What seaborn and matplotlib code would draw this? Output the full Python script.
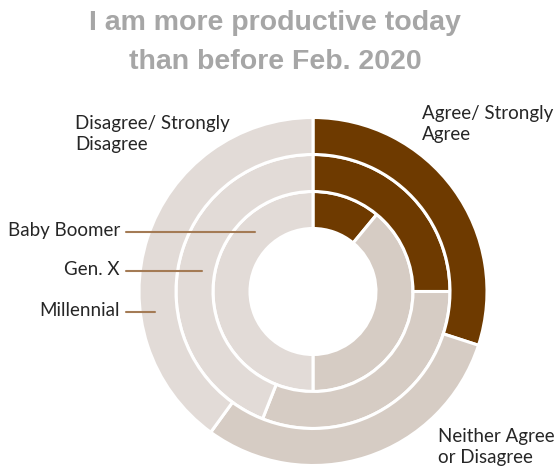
import matplotlib
matplotlib.use('Agg')
import matplotlib.pyplot as plt
import seaborn as sns

# Survey shares (%) per generation, inner ring -> outer ring
generations = ['Baby Boomer', 'Gen. X', 'Millennial']
agree = [11, 25, 30]
neither = [39, 31, 30]
disagree = [50, 44, 40]

colors = ['#6E3A00', '#D6CCC4', '#E2DBD7']

sns.set_theme(style='white')
plt.rcParams['font.family'] = ['Lato', 'DejaVu Sans']

W, H = 558, 470
CX, CY, R = 313, 291.5, 174  # donut centre and outer radius in pixels

fig = plt.figure(figsize=(W / 100, H / 100), dpi=100)
ax = fig.add_axes([0, 0, 1, 1])


def px(x, y):
    # pixel position (from top-left) -> data coords
    return (x - CX) / R, (CY - y) / R


# ring radii (outer edge), each ring 37px wide
radii = [100 / R, 137 / R, 1.0]
width = 37 / R
for i, gen in enumerate(generations):
    vals = [agree[i], neither[i], disagree[i]]
    ax.pie(vals, radius=radii[i], colors=colors, startangle=90,
           counterclock=False,
           wedgeprops=dict(width=width, edgecolor='white', linewidth=2.2))

x0, y0 = px(0, H)
x1, y1 = px(W, 0)
ax.set_xlim(x0, x1)
ax.set_ylim(y0, y1)
ax.set_aspect('auto')
ax.axis('off')

# title
for txt, yy in [('I am more productive today', 23), ('than before Feb. 2020', 62)]:
    ax.text(*px(275, yy), txt, ha='center', va='center', fontsize=20.5,
            fontweight='bold', color='#A6A6A6', family=['Liberation Sans'])

# category labels
tc = '#262626'
ax.text(*px(422, 124), 'Agree/ Strongly\nAgree', ha='left', va='center',
        fontsize=13.5, color=tc, linespacing=1.25)
ax.text(*px(75, 134), 'Disagree/ Strongly\nDisagree', ha='left', va='center',
        fontsize=13.5, color=tc, linespacing=1.25)
ax.text(*px(438, 447), 'Neither Agree\nor Disagree', ha='left', va='center',
        fontsize=13.5, color=tc, linespacing=1.25)

# generation labels with leader lines
line_y = [231.5, 270.5, 312]
line_end = [255, 202, 155]
for gen, ly, le in zip(generations, line_y, line_end):
    ax.text(*px(120, ly - 1), gen, ha='right', va='center', fontsize=13.5, color=tc)
    (ax_, ay_), (bx_, by_) = px(126, ly), px(le, ly)
    ax.plot([ax_, bx_], [ay_, by_], color='#A47B55', lw=1.5)

fig.savefig('out.png', dpi=100)
